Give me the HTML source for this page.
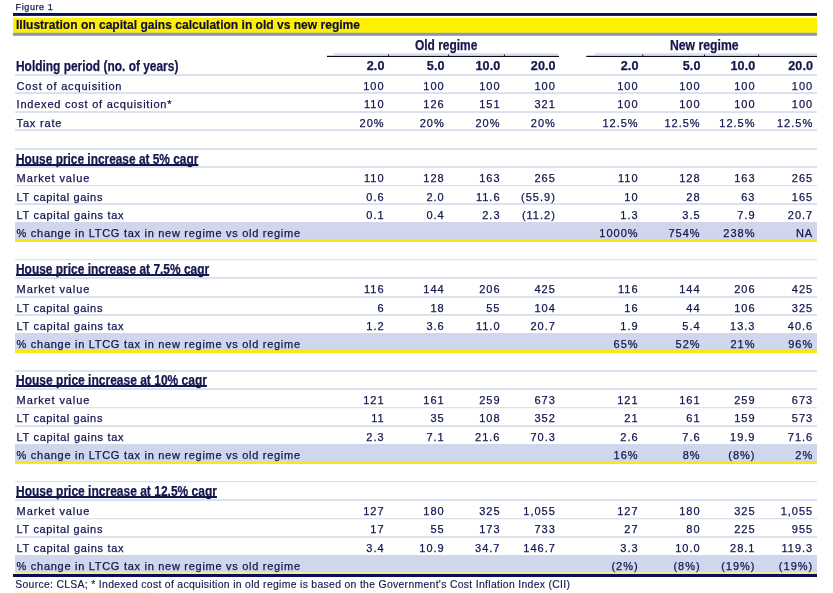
<!DOCTYPE html>
<html><head><meta charset="utf-8"><title>Figure 1</title>
<style>
html,body{margin:0;padding:0;background:#fff;}
body{width:833px;height:593px;position:relative;overflow:hidden;font-family:"Liberation Sans",sans-serif;color:#15164f;}
svg{position:absolute;left:0;top:0;}
.t{position:absolute;white-space:nowrap;line-height:1;}
.r{font-size:11px;letter-spacing:0.85px;-webkit-text-stroke:0.25px #15164f;}
.b{font-size:14px;font-weight:bold;-webkit-text-stroke:0.25px;transform:scaleX(0.852);transform-origin:0 0;}
.u{font-size:14px;font-weight:bold;-webkit-text-stroke:0.25px;transform:scaleX(0.8455);transform-origin:0 0;text-decoration:underline;text-decoration-thickness:1.8px;text-underline-offset:0px;text-decoration-skip-ink:none;}
.n{text-align:right;}
.r.n{letter-spacing:1px;margin-right:-1px;}
.b.n{font-size:12.6px;transform:none;letter-spacing:0.1px;}
</style></head><body>
<svg width="833" height="593" viewBox="0 0 833 593" shape-rendering="geometricPrecision">

<rect x="13.00" y="13.00" width="804.00" height="2.90" fill="#0a0a5e"/>
<rect x="13.00" y="17.80" width="804.00" height="15.10" fill="#fff000"/>
<rect x="13.00" y="32.80" width="804.00" height="3.00" fill="#8796b9"/>
<rect x="15.00" y="74.00" width="802.00" height="2.00" fill="#dae1ef"/>
<rect x="15.00" y="92.00" width="802.00" height="2.00" fill="#dae1ef"/>
<rect x="15.00" y="111.00" width="802.00" height="2.00" fill="#dae1ef"/>
<rect x="15.00" y="129.00" width="802.00" height="2.00" fill="#dae1ef"/>
<rect x="15.00" y="148.00" width="802.00" height="2.00" fill="#dae1ef"/>
<rect x="15.00" y="166.00" width="802.00" height="2.00" fill="#dae1ef"/>
<rect x="15.00" y="185.00" width="802.00" height="1.25" fill="#dae1ef"/>
<rect x="15.00" y="203.00" width="802.00" height="2.00" fill="#dae1ef"/>
<rect x="15.00" y="222.00" width="802.00" height="2.00" fill="#dae1ef"/>
<rect x="15.00" y="259.00" width="802.00" height="1.25" fill="#dae1ef"/>
<rect x="15.00" y="277.00" width="802.00" height="2.00" fill="#dae1ef"/>
<rect x="15.00" y="296.00" width="802.00" height="2.00" fill="#dae1ef"/>
<rect x="15.00" y="314.00" width="802.00" height="2.00" fill="#dae1ef"/>
<rect x="15.00" y="333.00" width="802.00" height="2.00" fill="#dae1ef"/>
<rect x="15.00" y="370.00" width="802.00" height="2.00" fill="#dae1ef"/>
<rect x="15.00" y="388.00" width="802.00" height="2.00" fill="#dae1ef"/>
<rect x="15.00" y="407.00" width="802.00" height="1.25" fill="#dae1ef"/>
<rect x="15.00" y="425.00" width="802.00" height="2.00" fill="#dae1ef"/>
<rect x="15.00" y="444.00" width="802.00" height="2.00" fill="#dae1ef"/>
<rect x="15.00" y="481.00" width="802.00" height="1.25" fill="#dae1ef"/>
<rect x="15.00" y="499.00" width="802.00" height="2.00" fill="#dae1ef"/>
<rect x="15.00" y="518.00" width="802.00" height="1.25" fill="#dae1ef"/>
<rect x="15.00" y="536.00" width="802.00" height="2.00" fill="#dae1ef"/>
<rect x="15.00" y="555.00" width="802.00" height="2.00" fill="#dae1ef"/>
<rect x="15.00" y="222.00" width="802.00" height="17.00" fill="#d0d6ec"/>
<rect x="15.00" y="239.00" width="802.00" height="3.00" fill="#f9e71c"/>
<rect x="15.00" y="333.00" width="802.00" height="17.00" fill="#d0d6ec"/>
<rect x="15.00" y="350.00" width="802.00" height="3.00" fill="#f9e71c"/>
<rect x="15.00" y="444.00" width="802.00" height="17.00" fill="#d0d6ec"/>
<rect x="15.00" y="461.00" width="802.00" height="3.00" fill="#f9e71c"/>
<rect x="15.00" y="555.00" width="802.00" height="17.00" fill="#d0d6ec"/>
<rect x="15.00" y="572.00" width="802.00" height="2.00" fill="#f1eb98"/>
<rect x="13.00" y="574.00" width="804.00" height="3.00" fill="#0a0a5e"/>
<rect x="334.00" y="53.20" width="224.00" height="2.00" fill="#dae1ef"/>
<rect x="594.00" y="53.20" width="223.00" height="2.00" fill="#dae1ef"/>
<rect x="327.00" y="55.80" width="232.00" height="1.20" fill="#0c0c18"/>
<rect x="586.20" y="55.80" width="230.80" height="1.20" fill="#0c0c18"/>
<rect x="388.00" y="54.50" width="1.00" height="1.40" fill="#0c0c18"/>
<rect x="448.10" y="54.50" width="1.00" height="1.40" fill="#0c0c18"/>
<rect x="503.90" y="54.50" width="1.00" height="1.40" fill="#0c0c18"/>
<rect x="642.30" y="54.50" width="1.00" height="1.40" fill="#0c0c18"/>
<rect x="704.00" y="54.50" width="1.00" height="1.40" fill="#0c0c18"/>
<rect x="758.10" y="54.50" width="1.00" height="1.40" fill="#0c0c18"/>
<rect x="15.00" y="591.60" width="140.00" height="1.40" fill="#fffce0"/>
</svg>

<div class="t r" style="left:15.60px;top:2.68px;font-size:9px;letter-spacing:0.6px;">Figure 1</div>
<div class="t b" style="left:15.70px;top:18.09px;font-size:13.6px;transform:scaleX(0.886);-webkit-text-stroke:0.2px #0d0d3a;color:#0d0d3a;">Illustration on capital gains calculation in old vs new regime</div>
<div class="t b" style="left:414.60px;top:38.45px;">Old regime</div>
<div class="t b" style="left:670.00px;top:38.45px;transform:scaleX(0.872);">New regime</div>
<div class="t b" style="left:15.80px;top:58.65px;">Holding period (no. of years)</div>
<div class="t b n" style="right:448.50px;top:59.83px;">2.0</div>
<div class="t b n" style="right:388.40px;top:59.83px;">5.0</div>
<div class="t b n" style="right:332.60px;top:59.83px;">10.0</div>
<div class="t b n" style="right:277.30px;top:59.83px;">20.0</div>
<div class="t b n" style="right:194.50px;top:59.83px;">2.0</div>
<div class="t b n" style="right:132.50px;top:59.83px;">5.0</div>
<div class="t b n" style="right:77.60px;top:59.83px;">10.0</div>
<div class="t b n" style="right:19.90px;top:59.83px;">20.0</div>
<div class="t r" style="left:16.60px;top:80.77px;letter-spacing:0.834px;">Cost of acquisition</div>
<div class="t r n" style="right:449.40px;top:80.77px;">100</div>
<div class="t r n" style="right:389.30px;top:80.77px;">100</div>
<div class="t r n" style="right:333.50px;top:80.77px;">100</div>
<div class="t r n" style="right:278.20px;top:80.77px;">100</div>
<div class="t r n" style="right:195.40px;top:80.77px;">100</div>
<div class="t r n" style="right:133.40px;top:80.77px;">100</div>
<div class="t r n" style="right:78.50px;top:80.77px;">100</div>
<div class="t r n" style="right:20.80px;top:80.77px;">100</div>
<div class="t r" style="left:16.60px;top:99.26px;letter-spacing:0.777px;">Indexed cost of acquisition*</div>
<div class="t r n" style="right:449.40px;top:99.26px;">110</div>
<div class="t r n" style="right:389.30px;top:99.26px;">126</div>
<div class="t r n" style="right:333.50px;top:99.26px;">151</div>
<div class="t r n" style="right:278.20px;top:99.26px;">321</div>
<div class="t r n" style="right:195.40px;top:99.26px;">100</div>
<div class="t r n" style="right:133.40px;top:99.26px;">100</div>
<div class="t r n" style="right:78.50px;top:99.26px;">100</div>
<div class="t r n" style="right:20.80px;top:99.26px;">100</div>
<div class="t r" style="left:16.60px;top:117.74px;letter-spacing:0.824px;">Tax rate</div>
<div class="t r n" style="right:449.40px;top:117.74px;">20%</div>
<div class="t r n" style="right:389.30px;top:117.74px;">20%</div>
<div class="t r n" style="right:333.50px;top:117.74px;">20%</div>
<div class="t r n" style="right:278.20px;top:117.74px;">20%</div>
<div class="t r n" style="right:195.40px;top:117.74px;">12.5%</div>
<div class="t r n" style="right:133.40px;top:117.74px;">12.5%</div>
<div class="t r n" style="right:78.50px;top:117.74px;">12.5%</div>
<div class="t r n" style="right:20.80px;top:117.74px;">12.5%</div>
<div class="t u" style="left:15.80px;top:151.57px;transform:scaleX(0.849);">House price increase at 5% cagr</div>
<div class="t r" style="left:16.60px;top:173.20px;letter-spacing:0.884px;">Market value</div>
<div class="t r n" style="right:449.40px;top:173.20px;">110</div>
<div class="t r n" style="right:389.30px;top:173.20px;">128</div>
<div class="t r n" style="right:333.50px;top:173.20px;">163</div>
<div class="t r n" style="right:278.20px;top:173.20px;">265</div>
<div class="t r n" style="right:195.40px;top:173.20px;">110</div>
<div class="t r n" style="right:133.40px;top:173.20px;">128</div>
<div class="t r n" style="right:78.50px;top:173.20px;">163</div>
<div class="t r n" style="right:20.80px;top:173.20px;">265</div>
<div class="t r" style="left:16.60px;top:191.68px;letter-spacing:0.651px;">LT capital gains</div>
<div class="t r n" style="right:449.40px;top:191.68px;">0.6</div>
<div class="t r n" style="right:389.30px;top:191.68px;">2.0</div>
<div class="t r n" style="right:333.50px;top:191.68px;">11.6</div>
<div class="t r n" style="right:278.20px;top:191.68px;">(55.9)</div>
<div class="t r n" style="right:195.40px;top:191.68px;">10</div>
<div class="t r n" style="right:133.40px;top:191.68px;">28</div>
<div class="t r n" style="right:78.50px;top:191.68px;">63</div>
<div class="t r n" style="right:20.80px;top:191.68px;">165</div>
<div class="t r" style="left:16.60px;top:210.17px;letter-spacing:0.69px;">LT capital gains tax</div>
<div class="t r n" style="right:449.40px;top:210.17px;">0.1</div>
<div class="t r n" style="right:389.30px;top:210.17px;">0.4</div>
<div class="t r n" style="right:333.50px;top:210.17px;">2.3</div>
<div class="t r n" style="right:278.20px;top:210.17px;">(11.2)</div>
<div class="t r n" style="right:195.40px;top:210.17px;">1.3</div>
<div class="t r n" style="right:133.40px;top:210.17px;">3.5</div>
<div class="t r n" style="right:78.50px;top:210.17px;">7.9</div>
<div class="t r n" style="right:20.80px;top:210.17px;">20.7</div>
<div class="t r" style="left:16.60px;top:227.65px;letter-spacing:0.714px;">% change in LTCG tax in new regime vs old regime</div>
<div class="t r n" style="right:195.40px;top:227.65px;">1000%</div>
<div class="t r n" style="right:133.40px;top:227.65px;">754%</div>
<div class="t r n" style="right:78.50px;top:227.65px;">238%</div>
<div class="t r n" style="right:20.80px;top:227.65px;">NA</div>
<div class="t u" style="left:15.80px;top:262.48px;transform:scaleX(0.853);">House price increase at 7.5% cagr</div>
<div class="t r" style="left:16.60px;top:284.11px;letter-spacing:0.884px;">Market value</div>
<div class="t r n" style="right:449.40px;top:284.11px;">116</div>
<div class="t r n" style="right:389.30px;top:284.11px;">144</div>
<div class="t r n" style="right:333.50px;top:284.11px;">206</div>
<div class="t r n" style="right:278.20px;top:284.11px;">425</div>
<div class="t r n" style="right:195.40px;top:284.11px;">116</div>
<div class="t r n" style="right:133.40px;top:284.11px;">144</div>
<div class="t r n" style="right:78.50px;top:284.11px;">206</div>
<div class="t r n" style="right:20.80px;top:284.11px;">425</div>
<div class="t r" style="left:16.60px;top:302.59px;letter-spacing:0.651px;">LT capital gains</div>
<div class="t r n" style="right:449.40px;top:302.59px;">6</div>
<div class="t r n" style="right:389.30px;top:302.59px;">18</div>
<div class="t r n" style="right:333.50px;top:302.59px;">55</div>
<div class="t r n" style="right:278.20px;top:302.59px;">104</div>
<div class="t r n" style="right:195.40px;top:302.59px;">16</div>
<div class="t r n" style="right:133.40px;top:302.59px;">44</div>
<div class="t r n" style="right:78.50px;top:302.59px;">106</div>
<div class="t r n" style="right:20.80px;top:302.59px;">325</div>
<div class="t r" style="left:16.60px;top:321.08px;letter-spacing:0.69px;">LT capital gains tax</div>
<div class="t r n" style="right:449.40px;top:321.08px;">1.2</div>
<div class="t r n" style="right:389.30px;top:321.08px;">3.6</div>
<div class="t r n" style="right:333.50px;top:321.08px;">11.0</div>
<div class="t r n" style="right:278.20px;top:321.08px;">20.7</div>
<div class="t r n" style="right:195.40px;top:321.08px;">1.9</div>
<div class="t r n" style="right:133.40px;top:321.08px;">5.4</div>
<div class="t r n" style="right:78.50px;top:321.08px;">13.3</div>
<div class="t r n" style="right:20.80px;top:321.08px;">40.6</div>
<div class="t r" style="left:16.60px;top:338.56px;letter-spacing:0.714px;">% change in LTCG tax in new regime vs old regime</div>
<div class="t r n" style="right:195.40px;top:338.56px;">65%</div>
<div class="t r n" style="right:133.40px;top:338.56px;">52%</div>
<div class="t r n" style="right:78.50px;top:338.56px;">21%</div>
<div class="t r n" style="right:20.80px;top:338.56px;">96%</div>
<div class="t u" style="left:15.80px;top:373.39px;transform:scaleX(0.858);">House price increase at 10% cagr</div>
<div class="t r" style="left:16.60px;top:395.02px;letter-spacing:0.884px;">Market value</div>
<div class="t r n" style="right:449.40px;top:395.02px;">121</div>
<div class="t r n" style="right:389.30px;top:395.02px;">161</div>
<div class="t r n" style="right:333.50px;top:395.02px;">259</div>
<div class="t r n" style="right:278.20px;top:395.02px;">673</div>
<div class="t r n" style="right:195.40px;top:395.02px;">121</div>
<div class="t r n" style="right:133.40px;top:395.02px;">161</div>
<div class="t r n" style="right:78.50px;top:395.02px;">259</div>
<div class="t r n" style="right:20.80px;top:395.02px;">673</div>
<div class="t r" style="left:16.60px;top:412.50px;letter-spacing:0.651px;">LT capital gains</div>
<div class="t r n" style="right:449.40px;top:412.50px;">11</div>
<div class="t r n" style="right:389.30px;top:412.50px;">35</div>
<div class="t r n" style="right:333.50px;top:412.50px;">108</div>
<div class="t r n" style="right:278.20px;top:412.50px;">352</div>
<div class="t r n" style="right:195.40px;top:412.50px;">21</div>
<div class="t r n" style="right:133.40px;top:412.50px;">61</div>
<div class="t r n" style="right:78.50px;top:412.50px;">159</div>
<div class="t r n" style="right:20.80px;top:412.50px;">573</div>
<div class="t r" style="left:16.60px;top:431.99px;letter-spacing:0.69px;">LT capital gains tax</div>
<div class="t r n" style="right:449.40px;top:431.99px;">2.3</div>
<div class="t r n" style="right:389.30px;top:431.99px;">7.1</div>
<div class="t r n" style="right:333.50px;top:431.99px;">21.6</div>
<div class="t r n" style="right:278.20px;top:431.99px;">70.3</div>
<div class="t r n" style="right:195.40px;top:431.99px;">2.6</div>
<div class="t r n" style="right:133.40px;top:431.99px;">7.6</div>
<div class="t r n" style="right:78.50px;top:431.99px;">19.9</div>
<div class="t r n" style="right:20.80px;top:431.99px;">71.6</div>
<div class="t r" style="left:16.60px;top:450.47px;letter-spacing:0.714px;">% change in LTCG tax in new regime vs old regime</div>
<div class="t r n" style="right:195.40px;top:450.47px;">16%</div>
<div class="t r n" style="right:133.40px;top:450.47px;">8%</div>
<div class="t r n" style="right:78.50px;top:450.47px;">(8%)</div>
<div class="t r n" style="right:20.80px;top:450.47px;">2%</div>
<div class="t u" style="left:15.80px;top:484.30px;transform:scaleX(0.858);">House price increase at 12.5% cagr</div>
<div class="t r" style="left:16.60px;top:505.93px;letter-spacing:0.884px;">Market value</div>
<div class="t r n" style="right:449.40px;top:505.93px;">127</div>
<div class="t r n" style="right:389.30px;top:505.93px;">180</div>
<div class="t r n" style="right:333.50px;top:505.93px;">325</div>
<div class="t r n" style="right:278.20px;top:505.93px;">1,055</div>
<div class="t r n" style="right:195.40px;top:505.93px;">127</div>
<div class="t r n" style="right:133.40px;top:505.93px;">180</div>
<div class="t r n" style="right:78.50px;top:505.93px;">325</div>
<div class="t r n" style="right:20.80px;top:505.93px;">1,055</div>
<div class="t r" style="left:16.60px;top:524.41px;letter-spacing:0.651px;">LT capital gains</div>
<div class="t r n" style="right:449.40px;top:524.41px;">17</div>
<div class="t r n" style="right:389.30px;top:524.41px;">55</div>
<div class="t r n" style="right:333.50px;top:524.41px;">173</div>
<div class="t r n" style="right:278.20px;top:524.41px;">733</div>
<div class="t r n" style="right:195.40px;top:524.41px;">27</div>
<div class="t r n" style="right:133.40px;top:524.41px;">80</div>
<div class="t r n" style="right:78.50px;top:524.41px;">225</div>
<div class="t r n" style="right:20.80px;top:524.41px;">955</div>
<div class="t r" style="left:16.60px;top:542.90px;letter-spacing:0.69px;">LT capital gains tax</div>
<div class="t r n" style="right:449.40px;top:542.90px;">3.4</div>
<div class="t r n" style="right:389.30px;top:542.90px;">10.9</div>
<div class="t r n" style="right:333.50px;top:542.90px;">34.7</div>
<div class="t r n" style="right:278.20px;top:542.90px;">146.7</div>
<div class="t r n" style="right:195.40px;top:542.90px;">3.3</div>
<div class="t r n" style="right:133.40px;top:542.90px;">10.0</div>
<div class="t r n" style="right:78.50px;top:542.90px;">28.1</div>
<div class="t r n" style="right:20.80px;top:542.90px;">119.3</div>
<div class="t r" style="left:16.60px;top:561.38px;letter-spacing:0.714px;">% change in LTCG tax in new regime vs old regime</div>
<div class="t r n" style="right:195.40px;top:561.38px;">(2%)</div>
<div class="t r n" style="right:133.40px;top:561.38px;">(8%)</div>
<div class="t r n" style="right:78.50px;top:561.38px;">(19%)</div>
<div class="t r n" style="right:20.80px;top:561.38px;">(19%)</div>
<div class="t r" style="left:15.20px;top:580.20px;font-size:10.4px;letter-spacing:0.32px;-webkit-text-stroke:0.15px;">Source: CLSA; * Indexed cost of acquisition in old regime is based on the Government's Cost Inflation Index (CII)</div>
</body></html>
